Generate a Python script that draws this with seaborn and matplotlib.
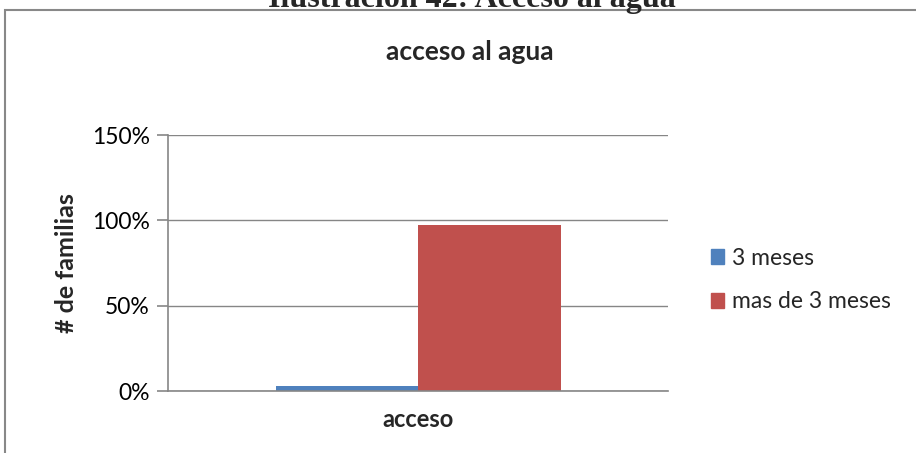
import pandas as pd
import matplotlib.pyplot as plt
import matplotlib.patches as mpatches
from matplotlib.ticker import PercentFormatter
import seaborn as sns

categories = ["acceso"]
series = ["3 meses", "mas de 3 meses"]
values = [3, 97]
colors = ["#4F81BD", "#C0504D"]

df = pd.DataFrame({
    "categoria": categories * len(series),
    "serie": series,
    "valor": values,
})

sns.set_theme(style="white")
plt.rcParams["font.family"] = ["Lato", "DejaVu Sans"]

fig = plt.figure(figsize=(9.16, 4.53), dpi=100)
ax = fig.add_axes([168 / 916, 1 - 391 / 453, 500 / 916, 256 / 453])

sns.barplot(data=df, x="categoria", y="valor", hue="serie", palette=colors,
            width=0.57, ax=ax, legend=False, saturation=1, linewidth=0)

grid_col = "#868686"
ax.set_ylim(0, 150)
ax.set_xlim(-0.5, 0.5)
ax.set_yticks([0, 50, 100, 150])
ax.yaxis.set_major_formatter(PercentFormatter(decimals=0))
ax.yaxis.grid(True, color=grid_col, linewidth=1)
ax.set_axisbelow(True)
for s in ["top", "right"]:
    ax.spines[s].set_visible(False)
for s in ["left", "bottom"]:
    ax.spines[s].set_color(grid_col)
    ax.spines[s].set_linewidth(1.2)
ax.tick_params(axis="y", left=True, length=8, width=1.2, color=grid_col,
               labelsize=16.5, pad=5, labelcolor="black")
ax.tick_params(axis="x", bottom=False, labelsize=17, pad=6)
for lab in ax.get_xticklabels():
    lab.set_fontweight("bold")
ax.set_xlabel("")
ax.set_ylabel("# de familias", fontsize=18, fontweight="bold", labelpad=10)

# chart title, centred on the whole chart area
fig.text(470 / 916, 1 - 52 / 453, "acceso al agua", ha="center", va="center",
         fontsize=19, fontweight="bold")

handles = [mpatches.Patch(color=c, label=s) for c, s in zip(colors, series)]
fig.legend(handles=handles, loc="center left", bbox_to_anchor=(690 / 916, 1 - 280 / 453),
           frameon=False, fontsize=16.5, handlelength=0.6, handleheight=0.6,
           handletextpad=0.35, labelspacing=1.0)

# outer chart border and cut-off caption
fig.patches.append(mpatches.Rectangle((5 / 916, -0.05), 1.1, 1.05 - 10.5 / 453,
                                      transform=fig.transFigure, fill=False,
                                      edgecolor="#888888", linewidth=1.5))
fig.text(472 / 916, 1 - 7 / 453, "Ilustración 42: Acceso al agua", ha="center",
         va="baseline", fontsize=23, fontweight="bold",
         family=["Liberation Serif", "DejaVu Serif"])

fig.savefig("out.png", dpi=100)
